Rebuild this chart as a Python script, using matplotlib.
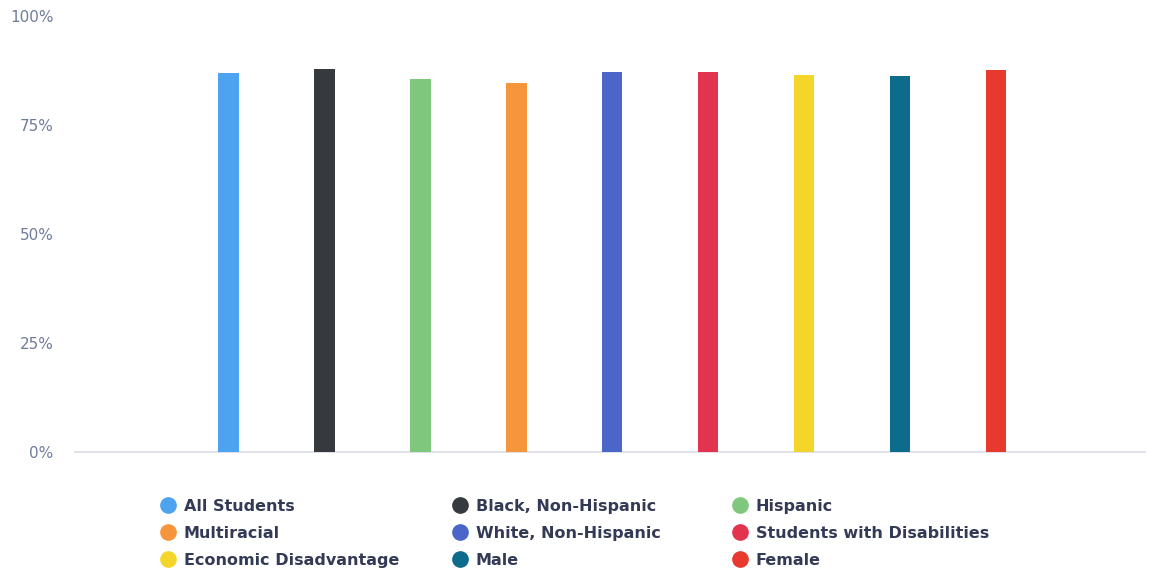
import matplotlib
matplotlib.use("Agg")
import matplotlib.pyplot as plt
from matplotlib.lines import Line2D
from matplotlib.ticker import FuncFormatter

categories = ["All Students", "Black, Non-Hispanic", "Hispanic", "Multiracial",
              "White, Non-Hispanic", "Students with Disabilities",
              "Economic Disadvantage", "Male", "Female"]
values = [87.0, 87.8, 85.6, 84.6, 87.2, 87.2, 86.5, 86.2, 87.6]
colors = ["#4da3ef", "#36393e", "#80c77e", "#f5953c", "#4b66c9",
          "#e3344f", "#f4d52a", "#0d6b8b", "#e8392f"]
y_ticks = [0, 25, 50, 75, 100]

fig = plt.figure(figsize=(11.49, 5.78), dpi=100)
ax = fig.add_axes([75/1149, 1-452/578, (1145-75)/1149, (452-16)/578])

x = list(range(len(categories)))
ax.bar(x, values, width=0.21, color=colors, zorder=3)

ax.set_xlim(-1.6, 9.55)
ax.set_ylim(0, 100)
ax.set_yticks(y_ticks)
ax.yaxis.set_major_formatter(FuncFormatter(lambda v, p: f"{int(v)}%"))
ax.tick_params(axis="y", length=0, pad=15.5, labelsize=11, labelcolor="#6f7d9b")
ax.set_xticks([])
for s in ["top", "right", "left"]:
    ax.spines[s].set_visible(False)
ax.spines["bottom"].set_color("#d8dce6")
ax.spines["bottom"].set_linewidth(1.2)

# Legend: three columns, rows filled left-to-right
columns = [[0, 3, 6], [1, 4, 7], [2, 5, 8]]
col_x = [160, 452, 732]
for idxs, cx in zip(columns, col_x):
    handles = [Line2D([0], [0], marker="o", linestyle="none", markersize=11,
                      markerfacecolor=colors[i], markeredgecolor=colors[i])
               for i in idxs]
    labels = [categories[i] for i in idxs]
    leg = fig.legend(handles, labels, ncol=1, loc="upper left",
                     bbox_to_anchor=(cx/1149, 1-499/578), frameon=False,
                     prop={"weight": "bold", "size": 11.5},
                     handletextpad=0.5, labelspacing=0.74,
                     handlelength=1.0, borderpad=0, borderaxespad=0)
    for t in leg.get_texts():
        t.set_color("#333a55")

fig.savefig("out.png", dpi=100, facecolor="white")
